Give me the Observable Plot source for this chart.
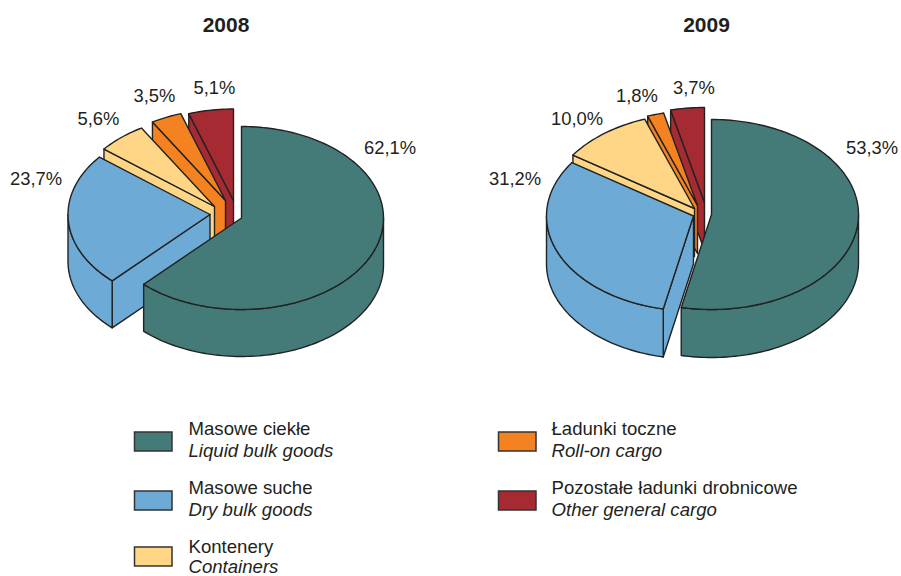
<!DOCTYPE html>
<html>
<head>
<meta charset="utf-8">
<script src="https://cdn.jsdelivr.net/npm/d3@7"></script>
<script src="https://cdn.jsdelivr.net/npm/@observablehq/plot@0.6"></script>
<style>html,body{margin:0;padding:0;background:#fff}svg{display:block}</style>
</head>
<body>
<div id="chart"></div>
<script>
// Data
const years = ["2008", "2009"];
const categoriesPl = ["Masowe ciekłe", "Masowe suche", "Kontenery", "Ładunki toczne", "Pozostałe ładunki drobnicowe"];
const categoriesEn = ["Liquid bulk goods", "Dry bulk goods", "Containers", "Roll-on cargo", "Other general cargo"];
const values2008 = [62.1, 23.7, 5.6, 3.5, 5.1];
const values2009 = [53.3, 31.2, 10.0, 1.8, 3.7];
const colors = ["#447b78", "#6dabd6", "#fed685", "#f58220", "#a62a31"];
const INK = "#231f20";

// Layout of the two exploded pies: ellipse radii, wall depth, apex of each slice
const pie2008 = {values: values2008, rx: 142, ry: 91.5, depth: 47, title: [225.5, 25],
  apex: [[241, 217.5], [209.5, 214], [214, 206], [225, 200], [233, 200]],
  labels: [[363.5, 148], [9.5, 179], [77, 119], [133, 95.5], [193, 87.5]]};
const pie2009 = {values: values2009, rx: 147, ry: 95, depth: 48, title: [706, 25],
  apex: [[711, 214], [693, 215.5], [694, 208], [697, 205], [704, 202]],
  labels: [[845.5, 148], [488.5, 179], [550.5, 119], [615.5, 95.5], [672.5, 87.5]]};

const rad = d => d * Math.PI / 180;

function sliceFaces(pie, i, a0, a1) {
  const [cx, cy] = pie.apex[i];
  const {rx, ry, depth} = pie;
  const rim = (t, dz = 0) => ({x: cx + rx * Math.sin(rad(t)), y: cy - ry * Math.cos(rad(t)) + dz});
  const arc = (from, to, dz = 0) => {
    const n = Math.max(2, Math.ceil(Math.abs(to - from) / 1.5));
    return d3.range(n + 1).map(k => rim(from + (to - from) * k / n, dz));
  };
  const faces = [];
  const apexTop = {x: cx, y: cy}, apexBot = {x: cx, y: cy + depth};
  const cut = t => [apexTop, rim(t), rim(t, depth), apexBot, apexTop];
  if (Math.sin(rad(a0)) < -1e-6) faces.push(cut(a0));
  if (Math.sin(rad(a1)) > 1e-6) faces.push(cut(a1));
  const w0 = Math.max(a0, 90), w1 = Math.min(a1, 270);
  if (w1 > w0) {
    const top = arc(w0, w1), bot = arc(w1, w0, depth);
    faces.push([...top, ...bot, top[0]]);
  }
  faces.push([apexTop, ...arc(a0, a1), apexTop]);
  return faces;
}

function pieMarks(pie) {
  const stops = d3.cumsum(pie.values).map(v => v * 3.6);
  const starts = [0, ...stops.slice(0, -1)];
  // paint back slices first, so the front ones cover them
  const order = d3.range(pie.values.length).reverse();
  return order.flatMap(i =>
    sliceFaces(pie, i, starts[i], Math.min(stops[i], 360)).map(face =>
      Plot.line(face, {x: "x", y: "y", fill: colors[i], stroke: "#222", strokeWidth: 1.4, strokeLinejoin: "round"})
    )
  );
}

const fmt = v => v.toFixed(1).replace(".", ",") + "%";
const labelMarks = pie => [Plot.text(pie.values, {
  x: (d, i) => pie.labels[i][0], y: (d, i) => pie.labels[i][1], text: fmt,
  textAnchor: "start", fontSize: 18.4, fontFamily: "Liberation Sans, Arial, sans-serif", fill: INK
})];

// Legend layout
const legendCols = [0, 0, 0, 1, 1];
const legendRows = [0, 1, 2, 0, 1];
const swatchX = [[134.5, 172], [498.5, 536]];
const swatchY = [[432, 451], [491, 510], [547, 566]];
const legendTextX = [188, 551];
const plRowY = [429, 488, 546.5];
const enRowY = [451, 510, 566.5];
const idx = d3.range(categoriesPl.length);

const plot = Plot.plot({
  width: 901, height: 576, margin: 0,
  x: {domain: [0, 901], range: [0, 901], axis: null},
  y: {domain: [0, 576], range: [0, 576], axis: null},
  style: {background: "#fff"},
  marks: [
    ...pieMarks(pie2008),
    ...pieMarks(pie2009),
    ...labelMarks(pie2008),
    ...labelMarks(pie2009),
    Plot.text(years, {
      x: (d, i) => [pie2008, pie2009][i].title[0], y: (d, i) => [pie2008, pie2009][i].title[1],
      text: d => d, textAnchor: "middle", fontSize: 21, fontWeight: "bold",
      fontFamily: "Liberation Sans, Arial, sans-serif", fill: INK
    }),
    Plot.rect(idx, {
      x1: i => swatchX[legendCols[i]][0], x2: i => swatchX[legendCols[i]][1],
      y1: i => swatchY[legendRows[i]][0], y2: i => swatchY[legendRows[i]][1],
      fill: i => colors[i], stroke: "#333", strokeWidth: 1.5
    }),
    Plot.text(idx, {
      x: i => legendTextX[legendCols[i]], y: i => plRowY[legendRows[i]], text: i => categoriesPl[i],
      textAnchor: "start", fontSize: 18.6, fontFamily: "Liberation Sans, Arial, sans-serif", fill: INK
    }),
    Plot.text(idx, {
      x: i => legendTextX[legendCols[i]], y: i => enRowY[legendRows[i]], text: i => categoriesEn[i],
      textAnchor: "start", fontSize: 18.6, fontStyle: "italic", fontFamily: "Liberation Sans, Arial, sans-serif", fill: INK
    })
  ]
});
document.getElementById("chart").append(plot);
</script>
</body>
</html>
